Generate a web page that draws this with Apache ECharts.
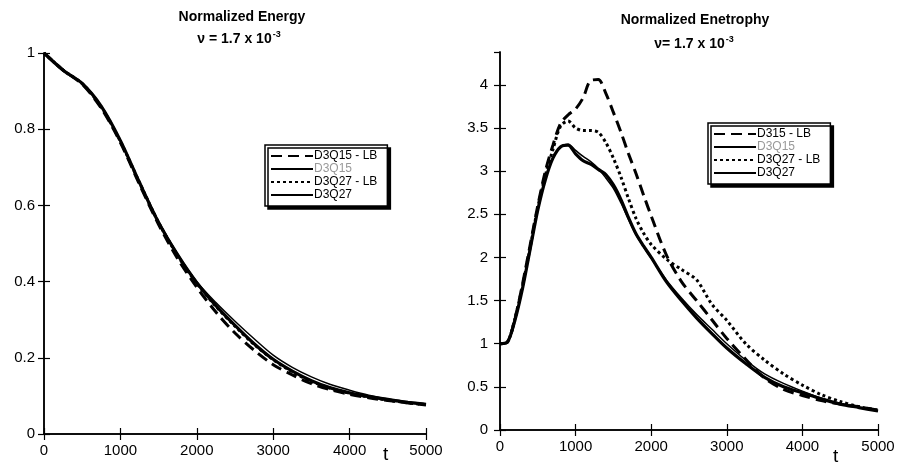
<!DOCTYPE html>
<html>
<head>
<meta charset="utf-8">
<script src="https://cdn.jsdelivr.net/npm/echarts@6/dist/echarts.min.js"></script>
<style>
  html, body { margin: 0; padding: 0; background: #fff; }
  #main { width: 898px; height: 464px; }
</style>
</head>
<body>
<div id="main"></div>
<script>
// 能量曲线 (左图)
var tEnergy = [0, 250, 500, 750, 1000, 1250, 1500, 1750, 2000, 2250, 2500, 2750, 3000, 3250, 3500, 3750, 4000, 4250, 4500, 4750, 5000];
var energyQ15LB = [1.0, 0.955, 0.918, 0.855, 0.765, 0.655, 0.55, 0.46, 0.385, 0.32, 0.265, 0.22, 0.182, 0.155, 0.132, 0.116, 0.104, 0.095, 0.088, 0.082, 0.076];
var energyQ15 = [1.0, 0.955, 0.92, 0.86, 0.77, 0.662, 0.558, 0.472, 0.4, 0.345, 0.296, 0.25, 0.207, 0.175, 0.15, 0.13, 0.115, 0.102, 0.093, 0.085, 0.079];
var energyQ27LB = [1.0, 0.955, 0.92, 0.858, 0.768, 0.66, 0.555, 0.468, 0.395, 0.335, 0.283, 0.235, 0.195, 0.163, 0.138, 0.12, 0.107, 0.097, 0.089, 0.082, 0.077];
var energyQ27 = [1.0, 0.955, 0.92, 0.86, 0.77, 0.66, 0.555, 0.47, 0.397, 0.337, 0.285, 0.237, 0.196, 0.165, 0.14, 0.121, 0.108, 0.098, 0.09, 0.083, 0.078];

// 涡拟能曲线 (右图)
var tEnst = [0, 100, 200, 300, 400, 500, 600, 700, 800, 900, 1000, 1100, 1200, 1300, 1400, 1500, 1600, 1700, 1800, 1900, 2000, 2200, 2400, 2600, 2800, 3000, 3250, 3500, 3750, 4000, 4250, 4500, 4750, 5000];
var enstQ15LB = [1.0, 1.02, 1.3, 1.7, 2.15, 2.6, 3.0, 3.3, 3.55, 3.65, 3.72, 3.85, 4.05, 4.06, 3.9, 3.68, 3.45, 3.2, 2.97, 2.72, 2.48, 2.03, 1.72, 1.5, 1.28, 1.06, 0.82, 0.6, 0.47, 0.4, 0.34, 0.3, 0.27, 0.23];
var enstQ15 = [1.0, 1.02, 1.28, 1.65, 2.1, 2.55, 2.9, 3.15, 3.28, 3.31, 3.24, 3.17, 3.11, 3.03, 2.92, 2.8, 2.63, 2.44, 2.26, 2.12, 1.99, 1.74, 1.53, 1.34, 1.17, 1.0, 0.81, 0.65, 0.54, 0.45, 0.37, 0.31, 0.26, 0.22];
var enstQ27LB = [1.0, 1.02, 1.3, 1.68, 2.12, 2.58, 2.95, 3.25, 3.52, 3.58, 3.5, 3.47, 3.47, 3.45, 3.33, 3.15, 2.93, 2.68, 2.45, 2.28, 2.15, 1.98, 1.86, 1.74, 1.46, 1.27, 1.0, 0.81, 0.65, 0.52, 0.41, 0.33, 0.27, 0.23];
var enstQ27 = [1.0, 1.02, 1.28, 1.65, 2.1, 2.55, 2.9, 3.15, 3.28, 3.3, 3.2, 3.12, 3.08, 3.02, 2.96, 2.84, 2.67, 2.46, 2.27, 2.13, 2.0, 1.72, 1.5, 1.3, 1.12, 0.95, 0.77, 0.61, 0.5, 0.43, 0.36, 0.3, 0.26, 0.22];

function pairs(t, v) {
  return t.map(function (x, i) { return [x, v[i]]; });
}

function init_echart_norm(container) {
  var chartDom = document.getElementById(container);
  var myChart = echarts.init(chartDom, null, { renderer: "canvas" });

  var font = "Liberation Sans, Arial, sans-serif";
  var lbl = { color: "#000", fontSize: 15, fontFamily: font, formatter: function (v) { return String(v); } };
  var axLine = { show: true, lineStyle: { color: "#000", width: 1.5 } };
  var tickIn = { show: true, inside: true, length: 6, lineStyle: { color: "#000", width: 1.2 } };

  function xAx(gi, pos, showLabel) {
    return {
      type: "value", gridIndex: gi, position: pos, min: 0, max: 5000, interval: 1000,
      axisLine: axLine, axisTick: tickIn, splitLine: { show: false },
      axisLabel: Object.assign({ show: showLabel, margin: 9 }, lbl),
    };
  }
  function yAx(gi, pos, max, step, showLabel, margin, showMax) {
    return {
      type: "value", gridIndex: gi, position: pos, min: 0, max: max, interval: step,
      axisLine: axLine, axisTick: tickIn, splitLine: { show: false },
      axisLabel: Object.assign({ show: showLabel, margin: margin, showMaxLabel: showMax }, lbl),
    };
  }

  var sup = function (base, exp) {
    return "{a|" + base + "}{s|" + exp + "}";
  };
  var nuRich = {
    a: { fontSize: 14, fontWeight: "bold", fontFamily: font, color: "#000" },
    s: { fontSize: 9, fontWeight: "bold", fontFamily: font, color: "#000", padding: [0, 0, 9, 1] },
  };

  var dashed = { color: "#000", width: 3, type: [11, 6] };
  var thin = { color: "#000", width: 1.5, type: "solid" };
  var dotted = { color: "#000", width: 3, type: [3, 3] };
  var thick = { color: "#000", width: 3.2, type: "solid" };

  function line(name, xi, data, style) {
    return {
      name: name, type: "line", xAxisIndex: xi, yAxisIndex: xi,
      data: data, smooth: 0.3, showSymbol: false, symbol: "none",
      lineStyle: style, itemStyle: { color: "#000" }, silent: true,
      emphasis: { disabled: true }, z: 3,
    };
  }

  var legendBase = {
    orient: "vertical", backgroundColor: "#fff", borderColor: "#000", borderWidth: 1.5,
    shadowColor: "#000", shadowBlur: 0, shadowOffsetX: 3, shadowOffsetY: 3,
    itemWidth: 42, itemHeight: 10, itemGap: 1, padding: [5, 10, 5, 5],
    itemStyle: { opacity: 0 },
    textStyle: { color: "#000", fontSize: 12, fontFamily: font, padding: [0, 0, 0, -4] },
    selectedMode: false,
  };

  var option = {
    backgroundColor: "#fff",
    animation: false,
    title: [
      { text: "Normalized Energy", left: 237, top: 5, textAlign: "center",
        textStyle: { fontSize: 14, fontWeight: "bold", fontFamily: font, color: "#000" } },
      { text: sup("ν = 1.7 x 10", "-3"), left: 234, top: 25, textAlign: "center",
        textStyle: { rich: nuRich } },
      { text: "Normalized Enetrophy", left: 690, top: 8, textAlign: "center",
        textStyle: { fontSize: 14, fontWeight: "bold", fontFamily: font, color: "#000" } },
      { text: sup("ν= 1.7 x 10", "-3"), left: 689, top: 30, textAlign: "center",
        textStyle: { rich: nuRich } },
    ],
    grid: [
      { left: 44, top: 53, width: 382, height: 381 },
      { left: 500, top: 52, width: 378, height: 378 },
    ],
    xAxis: [xAx(0, "bottom", true), xAx(0, "top", false), xAx(1, "bottom", true), xAx(1, "top", false)],
    yAxis: [
      yAx(0, "left", 1, 0.2, true, 9, true),
      yAx(0, "right", 1, 0.2, false, 9, true),
      yAx(1, "left", 4.38, 0.5, true, 12, false),
      yAx(1, "right", 4.38, 0.5, false, 12, false),
    ],
    legend: [
      Object.assign({}, legendBase, {
        left: 265, top: 145,
        data: ["D3Q15 - LB", { name: "D3Q15", textStyle: { color: "#999" } }, "D3Q27 - LB", "D3Q27"],
      }),
      Object.assign({}, legendBase, {
        left: 708, top: 123,
        data: ["D315 - LB", { name: "D3Q15", textStyle: { color: "#999" } }, "D3Q27 - LB", "D3Q27"],
      }),
    ],
    graphic: [
      { type: "text", left: 383, top: 445, style: { text: "t", fontSize: 19, fontFamily: font, fill: "#000" } },
      { type: "text", left: 833, top: 447, style: { text: "t", fontSize: 19, fontFamily: font, fill: "#000" } },
    ],
    series: [
      line("D3Q15 - LB", 0, pairs(tEnergy, energyQ15LB), dashed),
      line("D3Q15", 0, pairs(tEnergy, energyQ15), thin),
      line("D3Q27 - LB", 0, pairs(tEnergy, energyQ27LB), dotted),
      line("D3Q27", 0, pairs(tEnergy, energyQ27), thick),
      line("D315 - LB", 2, pairs(tEnst, enstQ15LB), dashed),
      line("D3Q15", 2, pairs(tEnst, enstQ15), thin),
      line("D3Q27 - LB", 2, pairs(tEnst, enstQ27LB), dotted),
      line("D3Q27", 2, pairs(tEnst, enstQ27), thick),
    ],
  };

  window.addEventListener("resize", function () {
    myChart.resize();
  });
  myChart.setOption(option);
}

init_echart_norm("main");
</script>
</body>
</html>
